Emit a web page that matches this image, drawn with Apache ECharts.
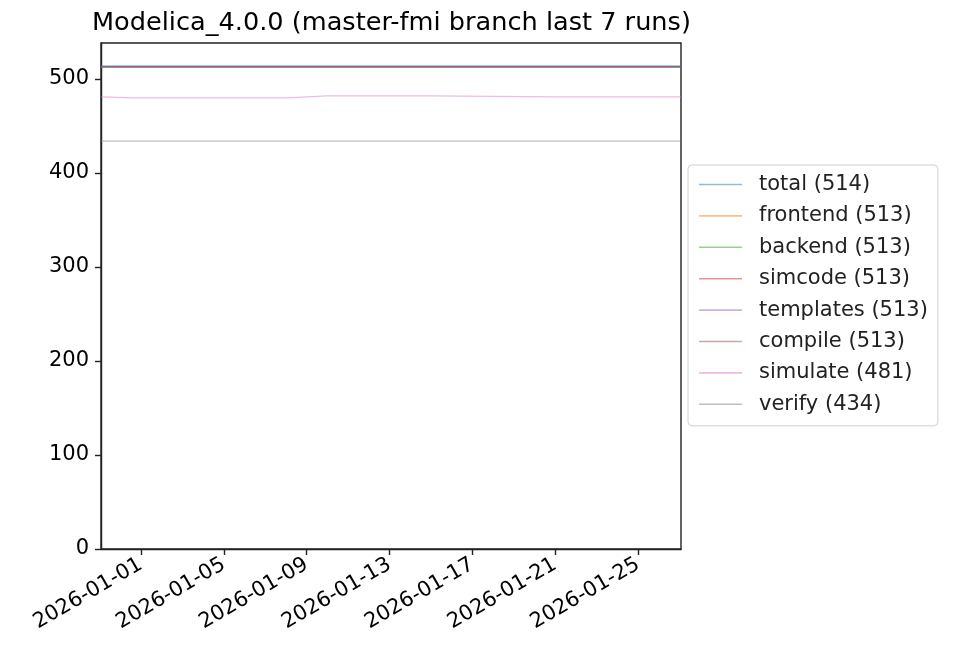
<!DOCTYPE html>
<html>
<head>
<meta charset="utf-8">
<script src="https://cdn.jsdelivr.net/npm/echarts@6/dist/echarts.min.js"></script>
<style>
html,body{margin:0;padding:0;background:#fff;}
#c{width:961px;height:646px;}
</style>
</head>
<body>
<div id="c"></div>
<script>
const titleText = 'Modelica_4.0.0 (master-fmi branch last 7 runs)';
const runDates = ['2025-12-30T01:45:00Z','2025-12-31T16:00:00Z','2026-01-08T02:00:00Z','2026-01-10T00:00:00Z','2026-01-15T00:00:00Z','2026-01-21T00:00:00Z','2026-01-27T01:45:00Z'];
const seriesNames = ['total','frontend','backend','simcode','templates','compile','simulate','verify'];
const total     = [514,514,514,514,514,514,514];
const frontend  = [513,513,513,513,513,513,513];
const backend   = [513,513,513,513,513,513,513];
const simcode   = [513,513,513,513,513,513,513];
const templates = [513,513,513,513,513,513,513];
const compile   = [513,513,513,513,513,513,513];
const simulate  = [481,480,480,482,482,481,481];
const verify    = [434,434,434,434,434,434,434];
const xTicks = ['2026-01-01','2026-01-05','2026-01-09','2026-01-13','2026-01-17','2026-01-21','2026-01-25'];
const yTicks = [0,100,200,300,400,500];
const colors = ['#1f77b4','#ff7f0e','#2ca02c','#d62728','#9467bd','#8c564b','#e377c2','#7f7f7f'];

const allValues = [total,frontend,backend,simcode,templates,compile,simulate,verify];
const ts = runDates.map(d => Date.parse(d));
const xTickVals = xTicks.map(d => Date.parse(d + 'T00:00:00Z'));

const chart = echarts.init(document.getElementById('c'), null, {renderer:'canvas'});
const font = 'DejaVu Sans';
const series = seriesNames.map((n, i) => {
  const vals = allValues[i];
  return {
    name: n + ' (' + vals[vals.length-1] + ')',
    type: 'line',
    data: vals.map((v, j) => [ts[j], v]),
    showSymbol: false,
    symbol: 'none',
    lineStyle: {color: colors[i], width: 1.3, opacity: 0.5},
    itemStyle: {color: colors[i], opacity: 0.5},
    color: colors[i],
    animation: false
  };
});
// draw order: total on top like the reference
series.push(series.shift());

chart.setOption({
  backgroundColor: '#fff',
  animation: false,
  title: {
    text: titleText,
    left: 87,
    top: 5,
    textStyle: {fontFamily: font, fontSize: 25.6, fontWeight: 'normal', color: '#000'}
  },
  legend: {
    orient: 'vertical',
    left: 688,
    top: 165,
    data: seriesNames.map((n, i) => n + ' (' + allValues[i][allValues[i].length-1] + ')'),
    icon: 'rect',
    itemWidth: 43,
    itemHeight: 1.6,
    itemGap: 10.4,
    padding: [9, 10, 11, 11],
    borderColor: '#d0d0d0',
    borderWidth: 1,
    borderRadius: 4,
    backgroundColor: 'rgba(255,255,255,0.8)',
    formatter: name => '{t|' + name + '}',
    textStyle: {
      fontFamily: font, fontSize: 21, color: '#222',
      rich: {t: {fontFamily: font, fontSize: 21, color: '#222', padding: [0,0,0,12], lineHeight: 21.4}}
    }
  },
  grid: {
    left: 101, right: 280, top: 43, bottom: 97,
    show: true, borderColor: '#222', borderWidth: 1.4, backgroundColor: '#fff',
    containLabel: false
  },
  xAxis: {
    type: 'value',
    min: Date.parse('2025-12-30T01:45:00Z'),
    max: Date.parse('2026-01-27T01:45:00Z'),
    axisLine: {show: true, lineStyle: {color: '#222', width: 1.4}},
    axisTick: {show: true, length: 6, lineStyle: {color: '#222', width: 1.4}, customValues: xTickVals},
    axisLabel: {
      customValues: xTickVals,
      rotate: 30,
      margin: 14,
      fontFamily: font, fontSize: 21, color: '#000',
      formatter: v => new Date(v).toISOString().slice(0,10)
    },
    splitLine: {show: false}
  },
  yAxis: {
    type: 'value',
    min: 0,
    max: 538.3,
    axisLine: {show: true, lineStyle: {color: '#222', width: 1.4}},
    axisTick: {show: true, length: 6, lineStyle: {color: '#222', width: 1.4}, customValues: yTicks},
    axisLabel: {customValues: yTicks, margin: 12, fontFamily: font, fontSize: 21, color: '#000'},
    splitLine: {show: false}
  },
  series: series
});
</script>
</body>
</html>
